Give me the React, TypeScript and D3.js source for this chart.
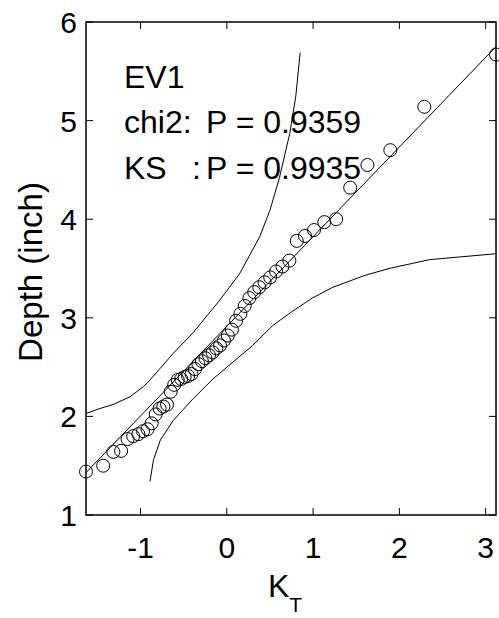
import React from "react";
import * as d3 from "d3";

const kt = [-1.632, -1.433, -1.315, -1.225, -1.15, -1.085, -1.025, -0.971, -0.919, -0.871, -0.824, -0.779, -0.735, -0.693, -0.651, -0.61, -0.569, -0.529, -0.489, -0.449, -0.409, -0.369, -0.329, -0.289, -0.248, -0.206, -0.164, -0.122, -0.078, -0.033, 0.012, 0.059, 0.107, 0.157, 0.208, 0.262, 0.318, 0.376, 0.438, 0.503, 0.571, 0.645, 0.725, 0.811, 0.906, 1.011, 1.13, 1.267, 1.43, 1.63, 1.895, 2.289, 3.12];
const depth = [1.44, 1.5, 1.64, 1.65, 1.77, 1.8, 1.82, 1.85, 1.87, 1.93, 2.02, 2.08, 2.1, 2.12, 2.25, 2.32, 2.37, 2.38, 2.4, 2.41, 2.43, 2.48, 2.53, 2.56, 2.59, 2.62, 2.65, 2.69, 2.72, 2.77, 2.82, 2.88, 2.97, 3.04, 3.12, 3.2, 3.26, 3.31, 3.36, 3.41, 3.47, 3.52, 3.58, 3.78, 3.83, 3.89, 3.97, 4.0, 4.32, 4.55, 4.7, 5.14, 5.67];

const fitKT = [-1.632, 3.12];
const fitDepth = [1.43, 5.75];

const upperKT = [-1.632, -1.47, -1.32, -1.12, -0.97, -0.89, -0.62, -0.39, -0.08, 0.15, 0.38, 0.5, 0.61, 0.73, 0.8, 0.85];
const upperDepth = [2.03, 2.08, 2.12, 2.2, 2.3, 2.37, 2.64, 2.85, 3.18, 3.45, 3.82, 4.09, 4.42, 4.87, 5.25, 5.69];

const lowerKT = [-0.89, -0.85, -0.77, -0.62, -0.39, -0.16, 0.07, 0.3, 0.53, 0.75, 0.99, 1.23, 1.6, 1.88, 2.35, 3.12];
const lowerDepth = [1.34, 1.56, 1.76, 1.96, 2.18, 2.38, 2.55, 2.72, 2.92, 3.06, 3.2, 3.31, 3.43, 3.5, 3.59, 3.65];

const xTicks = [-1, 0, 1, 2, 3];
const yTicks = [1, 2, 3, 4, 5, 6];

const FONT = "'Liberation Sans', Arial, Helvetica, sans-serif";

export default function App() {
  const left = 86, right = 496, top = 22, bottom = 515;
  const x = d3.scaleLinear().domain([-1.632, 3.12]).range([left, right]);
  const y = d3.scaleLinear().domain([1, 6]).range([bottom, top]);
  const line = d3.line<[number, number]>().x(d => x(d[0])).y(d => y(d[1]));
  const upper = line(upperKT.map((k, i) => [k, upperDepth[i]]) as [number, number][]) || "";
  const lower = line(lowerKT.map((k, i) => [k, lowerDepth[i]]) as [number, number][]) || "";
  const fit = line(fitKT.map((k, i) => [k, fitDepth[i]]) as [number, number][]) || "";
  const tl = 7;
  return (
    <svg width={499} height={618} style={{ position: "absolute", left: 0, top: 0, background: "#fff" }} fontFamily={FONT}>
      <rect x={0} y={0} width={499} height={618} fill="#fff" />
      <path d={upper} fill="none" stroke="#000" strokeWidth={1} />
      <path d={lower} fill="none" stroke="#000" strokeWidth={1} />
      <path d={fit} fill="none" stroke="#000" strokeWidth={1} />
      {kt.map((k, i) => (
        <circle key={i} cx={x(k)} cy={y(depth[i])} r={6.5} fill="none" stroke="#000" strokeWidth={1} />
      ))}
      <rect x={left} y={top} width={right - left} height={bottom - top} fill="none" stroke="#000" strokeWidth={1.5} />
      {xTicks.map(t => (
        <g key={"x" + t}>
          <line x1={x(t)} x2={x(t)} y1={bottom} y2={bottom - tl} stroke="#000" />
          <line x1={x(t)} x2={x(t)} y1={top} y2={top + tl} stroke="#000" />
          <text x={x(t)} y={558} textAnchor="middle" fontSize={30} fill="#000">{t < 0 ? "-" + Math.abs(t) : String(t)}</text>
        </g>
      ))}
      {yTicks.map(t => (
        <g key={"y" + t}>
          <line x1={left} x2={left + tl} y1={y(t)} y2={y(t)} stroke="#000" />
          <line x1={right} x2={right - tl} y1={y(t)} y2={y(t)} stroke="#000" />
          <text x={77} y={y(t) + 11} textAnchor="end" fontSize={30} fill="#000">{t}</text>
        </g>
      ))}
      <text fontSize={32} fill="#000">
        <tspan x={124} y={88}>EV1</tspan>
      </text>
      <text fontSize={32} fill="#000">
        <tspan x={124} y={133}>chi2:</tspan>
        <tspan x={206} y={133}>P = 0.9359</tspan>
      </text>
      <text fontSize={32} fill="#000">
        <tspan x={124} y={179}>KS</tspan>
        <tspan x={192} y={179}>:</tspan>
        <tspan x={206} y={179}>P = 0.9935</tspan>
      </text>
      <text fontSize={32} fill="#000" x={268} y={597}>
        K<tspan fontSize={21} dy={15}>T</tspan>
      </text>
      <text fontSize={33} fill="#000" textAnchor="middle" transform="translate(42,272) rotate(-90)">Depth (inch)</text>
    </svg>
  );
}
